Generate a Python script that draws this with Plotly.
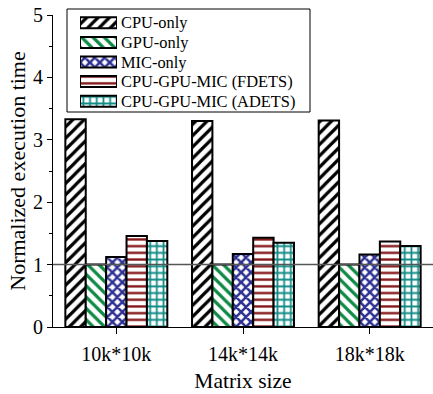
import plotly.graph_objects as go

categories = ["10k*10k", "14k*14k", "18k*18k"]
series_names = ["CPU-only", "GPU-only", "MIC-only", "CPU-GPU-MIC (FDETS)", "CPU-GPU-MIC (ADETS)"]
cpu_only = [3.33, 3.30, 3.31]
gpu_only = [1.0, 1.0, 1.0]
mic_only = [1.12, 1.17, 1.16]
fdets = [1.46, 1.43, 1.37]
adets = [1.38, 1.35, 1.30]
y_ticks = [0, 1, 2, 3, 4, 5]

values = [cpu_only, gpu_only, mic_only, fdets, adets]
shapes = ["/", "\\", "x", "-", "+"]
fgcolors = ["#000000", "#0E8A45", "#2E3192", "#841517", "#0E8A84"]
sizes = [8, 8, 7, 6.7, 6.7]
solid = [0.4, 0.4, 0.6, 0.35, 0.45]

font = "Liberation Serif, Times New Roman, serif"
W, H = 433, 394
ML, MR, MT, MB = 53, 0, 5, 67
ph = H - MT - MB  # paper height in px
plot_top_px = 15

def py(ypix):
    return (H - MB - ypix) / ph

def px(xpix):
    return (xpix - ML) / (W - ML - MR)

fig = go.Figure()
for name, vals, sh, fg, sz, so in zip(series_names, values, shapes, fgcolors, sizes, solid):
    fig.add_trace(go.Bar(
        x=categories, y=vals, name=name, showlegend=False,
        marker=dict(color="white", line=dict(color="black", width=2),
                    pattern=dict(shape=sh, fgcolor=fg, bgcolor="white", size=sz, solidity=so,
                                 fillmode="replace")),
    ))

# manual legend: swatches on a hidden helper axis, labels as annotations
row_top, row_bot = 13, 111
for i, (name, sh, fg, sz, so) in enumerate(zip(series_names, shapes, fgcolors, sizes, solid)):
    fig.add_trace(go.Bar(
        x=[1], y=[i], base=[0], orientation="h", width=0.56, xaxis="x2", yaxis="y2",
        showlegend=False, hoverinfo="skip",
        marker=dict(color="white", line=dict(color="black", width=2),
                    pattern=dict(shape=sh, fgcolor=fg, bgcolor="white", size=sz, solidity=so,
                                 fillmode="replace")),
    ))
    fig.add_annotation(
        x=px(119), y=py(row_top) - (i + 0.5) * (py(row_top) - py(row_bot)) / 5,
        xref="paper", yref="paper", xanchor="left", yanchor="middle",
        text=name, showarrow=False, font=dict(size=16.4, family=font, color="black"),
    )

fig.add_shape(type="rect", xref="paper", yref="paper",
              x0=px(67), x1=px(310), y0=py(112), y1=py(9),
              line=dict(color="black", width=1), fillcolor="rgba(0,0,0,0)", layer="below")

fig.add_hline(y=1, line=dict(color="#555555", width=1.5), layer="above")

fig.update_layout(
    width=W, height=H,
    margin=dict(l=ML, r=MR, t=MT, b=MB, autoexpand=False),
    paper_bgcolor="white", plot_bgcolor="white",
    barmode="group", bargap=0.195, bargroupgap=0,
    font=dict(family=font, size=20, color="black"),
    showlegend=False,
    xaxis2=dict(domain=[px(80), px(117)], anchor="y2", range=[0, 1], visible=False, fixedrange=True),
    yaxis2=dict(domain=[py(row_bot), py(row_top)], anchor="x2", range=[4.5, -0.5], visible=False, fixedrange=True),
)
fig.update_layout(
    xaxis=dict(
        showline=True, linecolor="black", linewidth=1, ticks="outside", ticklen=6,
        tickcolor="black", range=[-0.5, 2.5], showgrid=False, automargin=False,
        ticklabelstandoff=3,
        title=dict(text="Matrix size", font=dict(size=21.5, family=font), standoff=8),
        tickfont=dict(size=20, family=font),
    ),
    yaxis=dict(
        domain=[0, py(plot_top_px)],
        showline=True, linecolor="black", linewidth=1, ticks="outside", ticklen=5,
        tickcolor="black", range=[0, 5], tickvals=y_ticks, showgrid=False, zeroline=False,
        automargin=False,
        minor=dict(ticks="outside", ticklen=3, dtick=0.5, tickcolor="black", showgrid=False),
        title=dict(text="Normalized execution time", font=dict(size=22, family=font), standoff=1),
        tickfont=dict(size=20, family=font),
    ),
)

fig.write_html("out.html", config={"displayModeBar": False},
               post_script="document.body.style.margin='0px';")
